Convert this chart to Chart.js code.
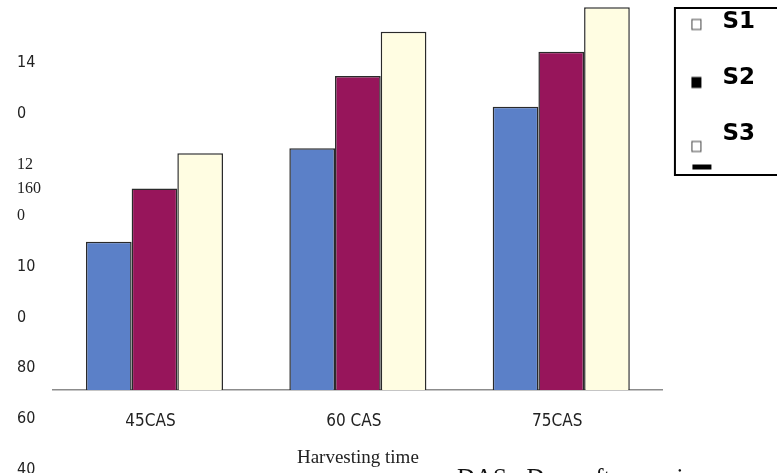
<!DOCTYPE html>
<html>
<head>
<meta charset="utf-8">
<script src="https://cdn.jsdelivr.net/npm/chart.js@4"></script>
<style>
  html, body { margin: 0; padding: 0; background: #fff; }
</style>
</head>
<body>
<canvas id="chart" width="777" height="473"></canvas>
<script>
const categories = ['45CAS', '60 CAS', '75CAS'];
const seriesNames = ['S1', 'S2', 'S3'];
const s1Values = [129.7, 166.5, 182.8];
const s2Values = [150.7, 194.9, 204.4];
const s3Values = [164.5, 212.3, 221.9];
const barBase = 71.4;
const yTickValues = [40, 60, 80, 100, 120, 140, 150.5, 160, 180, 200];
const yTickLabels = ['40', '60', '80', '0', '10', '0', '160', '12', '0', '14'];
const serifTicks = [140, 150.5, 160];
const xTitle = 'Harvesting time';
const caption = 'DAS : Days after sowing';

const narrow = "'Liberation Sans Narrow', 'DejaVu Sans Condensed', Roboto, sans-serif";
const serif = "'Liberation Serif', 'DejaVu Serif', serif";

// legend markers: small canvases so the squares (and the S3 dash) sit where the scan has them
function makeMarker(fill, stroke, dy, dash) {
  const c = document.createElement('canvas');
  c.width = 44; c.height = 80;
  const g = c.getContext('2d');
  g.fillStyle = fill;
  g.fillRect(21, 35 + dy, 10, 11);
  if (stroke) {
    g.strokeStyle = stroke;
    g.lineWidth = 1;
    g.strokeRect(21.5, 35.5 + dy, 9, 10);
  }
  if (dash) {
    g.fillStyle = '#000';
    g.fillRect(22, 70, 19, 5);
  }
  return c;
}
const legendMarkers = [
  makeMarker('#fff', '#444', 1.5, false),
  makeMarker('#000', null, 3.5, false),
  makeMarker('#fff', '#444', 11.5, true)
];

const legendFrame = {
  id: 'legendFrame',
  afterDraw(chart) {
    const ctx = chart.ctx, l = chart.legend;
    ctx.save();
    ctx.strokeStyle = '#000';
    ctx.lineWidth = 2;
    ctx.strokeRect(l.left + 12, 8, 140, 167);
    ctx.restore();
  }
};

const captionText = {
  id: 'captionText',
  afterDraw(chart) {
    const ctx = chart.ctx;
    ctx.save();
    ctx.font = "25px " + serif;
    ctx.fillStyle = '#111';
    ctx.textBaseline = 'top';
    ctx.fillText(caption, 457, 467);
    ctx.restore();
  }
};

new Chart(document.getElementById('chart'), {
  type: 'bar',
  data: {
    labels: categories,
    datasets: [
      { label: seriesNames[0], data: s1Values, backgroundColor: '#5b80c8' },
      { label: seriesNames[1], data: s2Values, backgroundColor: '#97155b' },
      { label: seriesNames[2], data: s3Values, backgroundColor: '#fffde2' }
    ].map(ds => Object.assign(ds, {
      base: barBase,
      borderColor: '#2a2a2a',
      borderWidth: 1.5,
      categoryPercentage: 0.674,
      barPercentage: 1
    }))
  },
  options: {
    responsive: false,
    animation: false,
    devicePixelRatio: 1,
    layout: { autoPadding: false, padding: { left: 17, right: 12, top: 0, bottom: 0 } },
    scales: {
      y: {
        type: 'linear',
        min: 38.82,
        max: 224.75,
        grid: { display: false },
        border: { display: false },
        afterBuildTicks: s => { s.ticks = yTickValues.map(v => ({ value: v })); },
        afterFit: s => {
          s.width = 35.8;
          s.paddingTop = 0;
          s.paddingBottom = 0;
        },
        ticks: {
          crossAlign: 'far',
          color: '#222',
          font: ctx => serifTicks.includes(ctx.tick && ctx.tick.value)
            ? { family: serif, size: 16 }
            : { family: narrow, size: 16 },
          callback: (v, i) => yTickLabels[i]
        }
      },
      x: {
        type: 'category',
        offset: true,
        position: { y: barBase },
        grid: { display: false, drawTicks: false },
        border: { display: true, color: '#8c8c8c', width: 1.5 },
        ticks: {
          padding: 21.5,
          labelOffset: -4,
          color: '#222',
          font: { family: narrow, size: 17 }
        },
        title: {
          display: true,
          text: xTitle,
          color: '#222',
          font: { family: serif, size: 19 },
          padding: { top: -7, bottom: 0 }
        }
      }
    },
    plugins: {
      tooltip: { enabled: false },
      legend: {
        position: 'right',
        align: 'start',
        labels: {
          usePointStyle: true,
          pointStyleWidth: 37,
          padding: 11,
          color: '#000',
          font: { family: "'DejaVu Sans', sans-serif", weight: 'bold', size: 23, lineHeight: 45 / 23 },
          generateLabels: () => seriesNames.map((name, i) => ({
            text: [name],
            pointStyle: legendMarkers[i],
            fillStyle: '#fff',
            strokeStyle: '#fff',
            lineWidth: 0,
            hidden: false,
            datasetIndex: i,
            fontColor: '#000'
          }))
        }
      }
    }
  },
  plugins: [legendFrame, captionText]
});
</script>
</body>
</html>
